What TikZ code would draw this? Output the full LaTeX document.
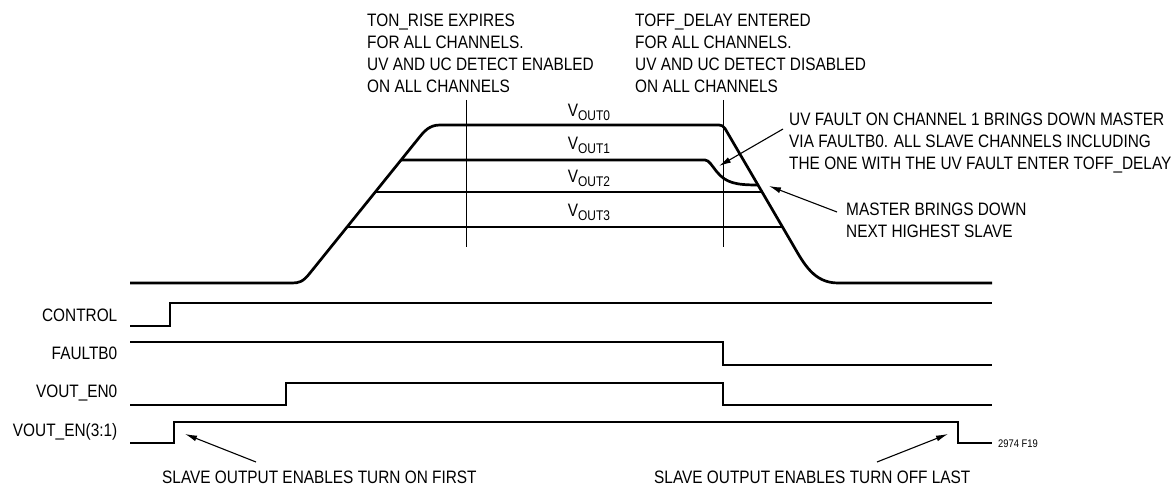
\documentclass[tikz,border=0pt]{standalone}
\usepackage{fontspec}
\setmainfont{Liberation Sans}[FakeStretch=0.855]
\usetikzlibrary{arrows.meta}
\begin{document}
\begin{tikzpicture}[x=1pt,y=-1pt,
  wave/.style={line width=2.7pt},
  marker/.style={line width=1pt},
  arr/.style={line width=1.1pt,-{Latex[length=12pt,width=6pt]}},
  lbl/.style={inner sep=0pt, font=\fontsize{18}{21.8}\selectfont, align=left},
  sig/.style={inner sep=0pt, font=\fontsize{18}{21.8}\selectfont, anchor=base east},
  vlbl/.style={inner sep=0pt, font=\fontsize{18}{21.8}\selectfont, anchor=base},
]
\useasboundingbox (0,0) rectangle (1171,486);

% annotation texts
\node[lbl, anchor=north west] (tonrise) at (367,14)
  {TON\_RISE EXPIRES\\FOR ALL CHANNELS.\\UV AND UC DETECT ENABLED\\ON ALL CHANNELS};
\node[lbl, anchor=north west] (toffdelay) at (635,14)
  {TOFF\_DELAY ENTERED\\FOR ALL CHANNELS.\\UV AND UC DETECT DISABLED\\ON ALL CHANNELS};
\node[lbl, anchor=north west] (uvfault) at (789,113)
  {UV FAULT ON CHANNEL 1 BRINGS DOWN MASTER\\VIA FAULTB0. ALL SLAVE CHANNELS INCLUDING\\THE ONE WITH THE UV FAULT ENTER TOFF\_DELAY};
\node[lbl, anchor=north west, font=\fontsize{18}{21.5}\selectfont] (master) at (846,203)
  {MASTER BRINGS DOWN\\NEXT HIGHEST SLAVE};
\node[lbl, anchor=base west] (onfirst) at (162,483.5) {SLAVE OUTPUT ENABLES TURN ON FIRST};
\node[lbl, anchor=base west] (offlast) at (654,483.5) {SLAVE OUTPUT ENABLES TURN OFF LAST};
\node[inner sep=0pt, anchor=base west, font=\fontsize{11}{13}\selectfont] (fig) at (998,447) {2974 F19};

% signal names
\node[sig] (control) at (117.5,321.5) {CONTROL};
\node[sig] (faultb) at (117.5,359.5) {FAULTB0};
\node[sig] (vouten0) at (117.5,398) {VOUT\_EN0};
\node[sig] (voutenx) at (117.5,436.5) {VOUT\_EN(3:1)};

% output labels
\node[vlbl] (v0) at (589,117) {V\raisebox{-4pt}{\fontsize{14}{14}\selectfont OUT0}};
\node[vlbl] (v1) at (589,149.5) {V\raisebox{-4pt}{\fontsize{14}{14}\selectfont OUT1}};
\node[vlbl] (v2) at (589,183) {V\raisebox{-4pt}{\fontsize{14}{14}\selectfont OUT2}};
\node[vlbl] (v3) at (589,217) {V\raisebox{-4pt}{\fontsize{14}{14}\selectfont OUT3}};

% marker lines
\draw[marker] (466,100) -- (466,247);
\draw[marker] (723,100) -- (723,247);

% analog outputs
\draw[wave] (130,283) -- (292,283) .. controls (299,283) and (303,282) .. (310,273)
  -- (418,139) .. controls (424,131.5) and (429,125) .. (440,125)
  -- (719,125) .. controls (722,125) and (723,126) .. (725,128.5)
  -- (793,245) .. controls (804,264) and (814,283) .. (838,283) -- (992,283);
\draw[wave] (401,160) -- (705,160) .. controls (709,160) and (712,166) .. (717,172)
  .. controls (726,183) and (736,185) .. (758,185);
\draw[wave] (375,192) -- (762,192);
\draw[wave] (347,227) -- (782,227);

% digital signals
\draw[wave] (130,326) -- (170,326) -- (170,303) -- (992,303);
\draw[wave] (130,342) -- (723,342) -- (723,365) -- (992,365);
\draw[wave] (130,405) -- (286,405) -- (286,383) -- (723,383) -- (723,405) -- (992,405);
\draw[wave] (130,443) -- (174,443) -- (174,422) -- (958,422) -- (958,443) -- (992,443);

% arrows
\coordinate (a1s) at (783,129);
\coordinate (a1e) at (719,166);
\coordinate (a2s) at (837,212);
\coordinate (a2e) at (769,186);
\coordinate (a3s) at (256,462);
\coordinate (a3e) at (185,434);
\coordinate (a4s) at (877,462);
\coordinate (a4e) at (948,434);
\draw[arr] (a1s) -- (a1e);
\draw[arr] (a2s) -- (a2e);
\draw[arr] (a3s) -- (a3e);
\draw[arr] (a4s) -- (a4e);
\end{tikzpicture}
\end{document}
